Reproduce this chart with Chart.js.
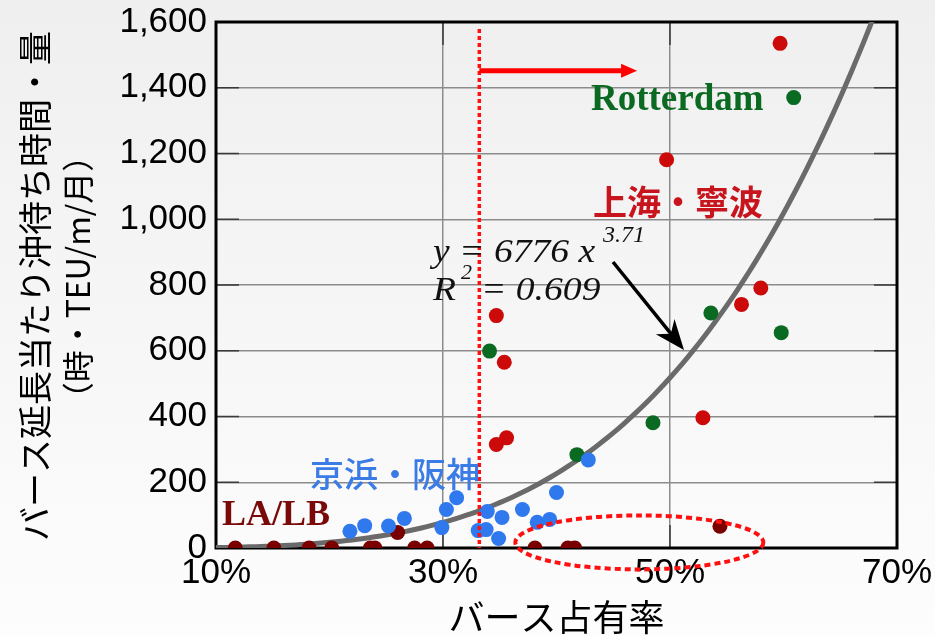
<!DOCTYPE html>
<html>
<head>
<meta charset="utf-8">
<script src="https://cdn.jsdelivr.net/npm/chart.js@4.4.1/dist/chart.umd.min.js"></script>
<style>
  html, body { margin: 0; padding: 0; background: #f6f6f6; }
  canvas { display: block; }
</style>
</head>
<body>
<canvas id="chart" width="935" height="636"></canvas>
<script>
// Berth occupancy (%) vs. waiting time per berth length (h·TEU/m/month)
const xTickValues = [10, 30, 50, 70];
const yTickValues = [0, 200, 400, 600, 800, 1000, 1200, 1400, 1600];

// LA/LB
const laLbShare = [11.7, 15.1, 18.2, 20.2, 23.6, 24.0, 26.0, 27.5, 28.6, 38.1, 41.0, 41.6, 54.4];
const laLbWait  = [0, 0, 0, 0, 0, 0, 47, 0, 0, 0, 0, 0, 66];

// 京浜・阪神
const keihinShare = [21.8, 23.1, 25.2, 26.6, 29.9, 30.3, 31.2, 33.1, 33.8, 33.9, 34.9, 35.2, 37.0, 38.3, 39.4, 40.0, 42.8];
const keihinWait  = [51, 68, 67, 90, 62, 117, 153, 53, 56, 111, 29, 93, 117, 78, 87, 169, 268];

// Rotterdam
const rotterdamShare = [34.1, 41.8, 48.5, 53.6, 59.8, 60.9];
const rotterdamWait  = [599, 284, 381, 715, 655, 1370];

// 上海・寧波
const shanghaiShare = [34.7, 35.4, 34.7, 35.6, 49.7, 52.9, 56.3, 58.0, 59.7];
const shanghaiWait  = [707, 565, 315, 335, 1181, 396, 741, 791, 1535];

// Power-law fit y = A * x^B (x as a fraction)
const FIT_A = 6776;
const FIT_B = 3.71;
const FIT_R2 = 0.609;

// Occupancy threshold marked by the dotted line
const THRESHOLD_SHARE = 33.2;

const toPoints = (xs, ys) => xs.map((x, i) => ({ x, y: ys[i] }));

const fitCurve = [];
for (let s = 10; s <= 70; s += 0.5) {
  fitCurve.push({ x: s, y: FIT_A * Math.pow(s / 100, FIT_B) });
}

const SANS = '"Liberation Sans", Arial, sans-serif';
const SERIF = '"Liberation Serif", "Times New Roman", serif';
const CJK = '"Noto Sans CJK JP", "Noto Sans CJK SC", sans-serif';

const decorations = {
  id: 'decorations',
  beforeDraw(chart) {
    const { ctx, width, height } = chart;
    const g = ctx.createLinearGradient(0, 0, 0, height);
    g.addColorStop(0, '#efefef');
    g.addColorStop(1, '#fdfdfd');
    ctx.save();
    ctx.fillStyle = g;
    ctx.fillRect(0, 0, width, height);
    ctx.restore();
  },
  beforeDatasetsDraw(chart) {
    const { ctx, chartArea: a, scales: { x, y } } = chart;
    ctx.save();
    // short inner tick marks
    ctx.strokeStyle = '#3a3a3a';
    ctx.lineWidth = 1.5;
    yTickValues.forEach(v => {
      const py = y.getPixelForValue(v);
      ctx.beginPath();
      ctx.moveTo(a.left, py); ctx.lineTo(a.left + 23, py);
      ctx.moveTo(a.right - 23, py); ctx.lineTo(a.right, py);
      ctx.stroke();
    });
    xTickValues.forEach(v => {
      const px = x.getPixelForValue(v);
      ctx.beginPath();
      ctx.moveTo(px, a.top); ctx.lineTo(px, a.top + 23);
      ctx.moveTo(px, a.bottom - 23); ctx.lineTo(px, a.bottom);
      ctx.stroke();
    });
    // frame
    ctx.strokeStyle = '#000';
    ctx.lineWidth = 3;
    ctx.strokeRect(a.left, a.top, a.right - a.left, a.bottom - a.top);
    ctx.restore();
  },
  afterDatasetsDraw(chart) {
    const { ctx, chartArea: a, scales: { x, y } } = chart;
    ctx.save();

    // threshold dotted line
    const tx = x.getPixelForValue(THRESHOLD_SHARE);
    ctx.strokeStyle = '#ff1010';
    ctx.lineWidth = 3.5;
    ctx.setLineDash([4, 3]);
    ctx.beginPath();
    ctx.moveTo(tx, a.top + 7);
    ctx.lineTo(tx, a.bottom);
    ctx.stroke();

    // dotted ellipse around the low-wait LA/LB points
    ctx.lineWidth = 4;
    ctx.setLineDash([6, 4]);
    ctx.beginPath();
    ctx.ellipse(x.getPixelForValue(47.3), y.getPixelForValue(17), 124, 27, 0, 0, Math.PI * 2);
    ctx.stroke();
    ctx.setLineDash([]);

    // red arrow pointing right
    const ay = y.getPixelForValue(1452);
    const ax1 = x.getPixelForValue(47.1);
    ctx.strokeStyle = '#ff0000';
    ctx.fillStyle = '#ff0000';
    ctx.lineWidth = 5;
    ctx.beginPath();
    ctx.moveTo(tx, ay);
    ctx.lineTo(ax1 - 14, ay);
    ctx.stroke();
    ctx.beginPath();
    ctx.moveTo(ax1, ay);
    ctx.lineTo(ax1 - 16, ay - 7);
    ctx.lineTo(ax1 - 16, ay + 7);
    ctx.closePath();
    ctx.fill();

    // black arrow from the equation to the curve
    const bx0 = 613, by0 = 262, bx1 = 684, by1 = 350;
    const ang = Math.atan2(by1 - by0, bx1 - bx0);
    ctx.strokeStyle = '#000';
    ctx.fillStyle = '#000';
    ctx.lineWidth = 3.5;
    ctx.beginPath();
    ctx.moveTo(bx0, by0);
    ctx.lineTo(bx1 - 20 * Math.cos(ang), by1 - 20 * Math.sin(ang));
    ctx.stroke();
    ctx.save();
    ctx.translate(bx1, by1);
    ctx.rotate(ang);
    ctx.beginPath();
    ctx.moveTo(0, 0);
    ctx.lineTo(-30, -12);
    ctx.lineTo(-21, 0);
    ctx.lineTo(-30, 12);
    ctx.closePath();
    ctx.fill();
    ctx.restore();

    // series labels
    ctx.textBaseline = 'alphabetic';
    ctx.textAlign = 'left';
    ctx.fillStyle = '#0b6a22';
    ctx.font = 'bold 37px ' + SERIF;
    ctx.fillText('Rotterdam', 591, 110);

    ctx.fillStyle = '#c8141c';
    ctx.font = 'bold 34px ' + CJK;
    ctx.textBaseline = 'middle';
    ctx.fillText('上海・寧波', 593, 202);

    ctx.fillStyle = '#3a7be6';
    ctx.font = '500 34px ' + CJK;
    ctx.fillText('京浜・阪神', 310, 474);

    ctx.textBaseline = 'alphabetic';
    ctx.fillStyle = '#7a0a0a';
    ctx.font = 'bold 36px ' + SERIF;
    ctx.fillText('LA/LB', 222, 525);

    // fit equation
    ctx.fillStyle = '#111';
    ctx.save();
    ctx.translate(433, 262);
    ctx.scale(1.14, 1);
    ctx.font = 'italic 33px ' + SERIF;
    ctx.fillText('y = ' + FIT_A + ' x', 0, 0);
    ctx.restore();
    ctx.font = 'italic 24px ' + SERIF;
    ctx.fillText(String(FIT_B), 603, 242);

    ctx.save();
    ctx.translate(433, 300);
    ctx.scale(1.14, 1);
    ctx.font = 'italic 33px ' + SERIF;
    ctx.fillText('R', 0, 0);
    ctx.restore();
    ctx.font = 'italic 22px ' + SERIF;
    ctx.fillText('2', 461, 279);
    ctx.save();
    ctx.translate(481, 300);
    ctx.scale(1.14, 1);
    ctx.font = 'italic 33px ' + SERIF;
    ctx.fillText('= ' + FIT_R2, 0, 0);
    ctx.restore();

    // axis titles
    ctx.fillStyle = '#000';
    ctx.textAlign = 'center';
    ctx.textBaseline = 'middle';
    ctx.font = '36px ' + CJK;
    ctx.fillText('バース占有率', (a.left + a.right) / 2, 617);

    ctx.save();
    ctx.translate(35, 286);
    ctx.rotate(-Math.PI / 2);
    ctx.font = '34px ' + CJK;
    ctx.fillText('バース延長当たり沖待ち時間・量', 0, 0);
    ctx.restore();
    ctx.save();
    ctx.translate(78, 277);
    ctx.rotate(-Math.PI / 2);
    ctx.font = '32px ' + CJK;
    ctx.fillText('（時・TEU/m/月）', 0, 0);
    ctx.restore();

    ctx.restore();
  }
};

new Chart(document.getElementById('chart'), {
  type: 'scatter',
  data: {
    datasets: [
      { label: '京浜・阪神', data: toPoints(keihinShare, keihinWait), backgroundColor: '#2f78ee', order: 1 },
      { label: '上海・寧波', data: toPoints(shanghaiShare, shanghaiWait), backgroundColor: '#cc0a0a', order: 2 },
      { label: 'Rotterdam', data: toPoints(rotterdamShare, rotterdamWait), backgroundColor: '#0b6a22', order: 3 },
      { label: 'LA/LB', data: toPoints(laLbShare, laLbWait), backgroundColor: '#7a0000', order: 4 },
      { label: 'fit', data: fitCurve, showLine: true, pointRadius: 0, borderColor: '#6a6a6a',
        borderWidth: 5, backgroundColor: 'transparent', clip: 0, order: 5 }
    ]
  },
  options: {
    responsive: false,
    animation: false,
    devicePixelRatio: 1,
    layout: { padding: { left: 0, right: 38, top: 22, bottom: 0 } },
    elements: { point: { radius: 7.5, borderWidth: 0, hoverRadius: 7.5 } },
    plugins: { legend: { display: false }, tooltip: { enabled: false } },
    scales: {
      x: {
        type: 'linear', min: 10, max: 70,
        afterBuildTicks: s => { s.ticks = xTickValues.map(v => ({ value: v })); },
        ticks: {
          autoSkip: false, maxRotation: 0, padding: 4, color: '#000',
          font: { family: SANS, size: 35 },
          callback: v => v + '%'
        },
        grid: { color: '#8c8c8c', lineWidth: 1.5, drawTicks: false },
        border: { display: false },
        afterFit: s => { s.height = 88; s.paddingLeft = 0; s.paddingRight = 0; }
      },
      y: {
        type: 'linear', min: 0, max: 1600,
        afterBuildTicks: s => { s.ticks = yTickValues.map(v => ({ value: v })); },
        ticks: {
          autoSkip: false, padding: 9, color: '#000',
          font: { family: SANS, size: 35 },
          callback: v => v.toLocaleString('en-US')
        },
        grid: { color: '#8c8c8c', lineWidth: 1.5, drawTicks: false },
        border: { display: false },
        afterFit: s => { s.width = 216; s.paddingTop = 0; s.paddingBottom = 0; }
      }
    }
  },
  plugins: [decorations]
});
</script>
</body>
</html>
